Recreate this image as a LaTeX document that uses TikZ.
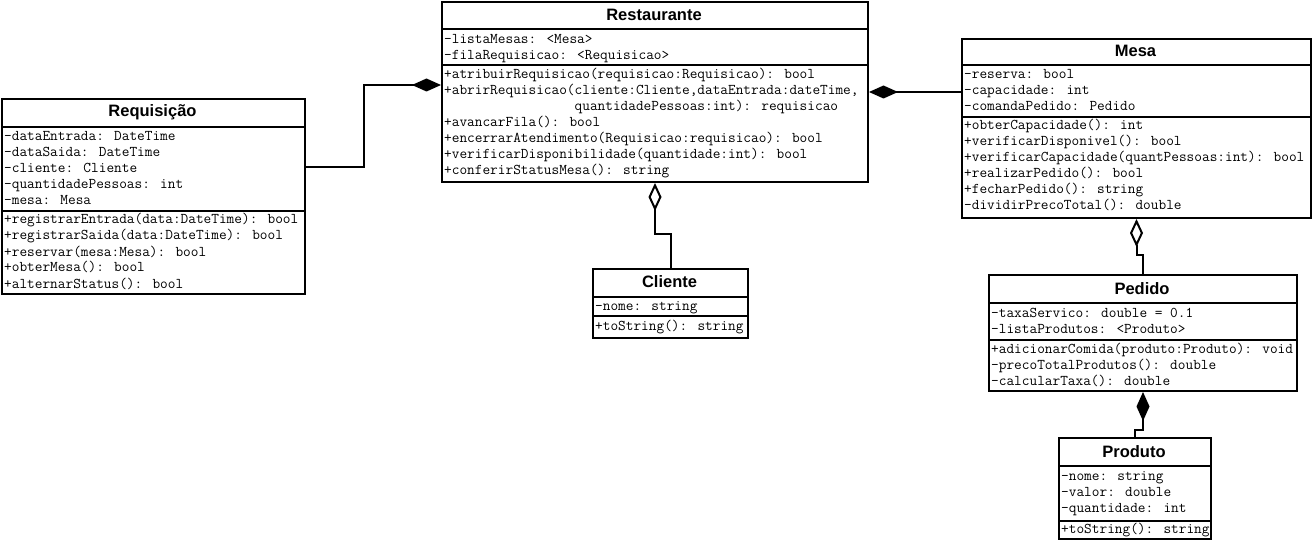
\documentclass[tikz,border=0pt]{standalone}
\usepackage{fontspec}
\setmainfont{Liberation Sans}
\usetikzlibrary{arrows.meta}
\begin{document}
\begin{tikzpicture}[x=1pt,y=-1pt,
  box/.style={draw, line width=2pt, inner sep=0pt, anchor=north west},
  ttl/.style={font=\fontsize{16.5}{18}\selectfont\bfseries, inner sep=0pt},
  ln/.style={font=\ttfamily\fontsize{14.9}{16}\selectfont, inner sep=0pt, anchor=west, text height=9pt, text depth=3pt},
  sepl/.style={line width=2pt},
  conn/.style={line width=2pt},
  comp/.style={conn, {Diamond[length=29pt,width=13pt]}-},
  agg/.style={conn, {Diamond[open,length=28pt,width=13pt,fill=white]}-}]
\useasboundingbox (0,0) rectangle (1312,540);

% ---------- Requisicao ----------
\node[box, minimum width=303pt, minimum height=195pt] (req) at (1,98) {};
\node[ttl] (reqt) at (152.5,112.5) {Requisição};
\draw[sepl] (1,127) -- (304,127);
\draw[sepl] (1,211) -- (304,211);
\foreach \t [count=\i] in {{-dataEntrada: DateTime},{-dataSaida: DateTime},{-cliente: Cliente},{-quantidadePessoas: int},{-mesa: Mesa}}
  \node[ln] (reqa\i) at (4,{137.5+16*(\i-1)}) {\t};
\foreach \t [count=\i] in {{+registrarEntrada(data:DateTime): bool},{+registrarSaida(data:DateTime): bool},{+reservar(mesa:Mesa): bool},{+obterMesa(): bool},{+alternarStatus(): bool}}
  \node[ln] (reqm\i) at (4,{221+16*(\i-1)}) {\t};

% ---------- Restaurante ----------
\node[box, minimum width=426pt, minimum height=180pt] (rest) at (441,1) {};
\node[ttl] (restt) at (654,15) {Restaurante};
\draw[sepl] (441,29) -- (867,29);
\draw[sepl] (441,65) -- (867,65);
\foreach \t [count=\i] in {{-listaMesas: <Mesa>},{-filaRequisicao: <Requisicao>}}
  \node[ln] (resta\i) at (444,{40.5+16*(\i-1)}) {\t};
\foreach \t [count=\i] in {{+atribuirRequisicao(requisicao:Requisicao): bool},{+abrirRequisicao(cliente:Cliente,dataEntrada:dateTime,},{\hphantom{+abrirRequisicao(}quantidadePessoas:int): requisicao},{+avancarFila(): bool},{+encerrarAtendimento(Requisicao:requisicao): bool},{+verificarDisponibilidade(quantidade:int): bool},{+conferirStatusMesa(): string}}
  \node[ln] (restm\i) at (444,{76+16*(\i-1)}) {\t};

% ---------- Mesa ----------
\node[box, minimum width=349pt, minimum height=179pt] (mesa) at (961,38) {};
\node[ttl] (mesat) at (1135.5,51) {Mesa};
\draw[sepl] (961,65) -- (1310,65);
\draw[sepl] (961,117) -- (1310,117);
\foreach \t [count=\i] in {{-reserva: bool},{-capacidade: int},{-comandaPedido: Pedido}}
  \node[ln] (mesaa\i) at (964,{76+16*(\i-1)}) {\t};
\foreach \t [count=\i] in {{+obterCapacidade(): int},{+verificarDisponivel(): bool},{+verificarCapacidade(quantPessoas:int): bool},{+realizarPedido(): bool},{+fecharPedido(): string},{-dividirPrecoTotal(): double}}
  \node[ln] (mesam\i) at (964,{127+16*(\i-1)}) {\t};

% ---------- Cliente ----------
\node[box, minimum width=155pt, minimum height=69pt] (cli) at (592,268) {};
\node[ttl] (clit) at (669.5,282) {Cliente};
\draw[sepl] (592,297) -- (747,297);
\draw[sepl] (592,316) -- (747,316);
\node[ln] (clia1) at (595,307) {-nome: string};
\node[ln] (clim1) at (595,327) {+toString(): string};

% ---------- Pedido ----------
\node[box, minimum width=308pt, minimum height=116pt] (ped) at (988,274) {};
\node[ttl] (pedt) at (1142,289) {Pedido};
\draw[sepl] (988,303) -- (1296,303);
\draw[sepl] (988,340) -- (1296,340);
\foreach \t [count=\i] in {{-taxaServico: double = 0.1},{-listaProdutos: <Produto>}}
  \node[ln] (peda\i) at (991,{314+16*(\i-1)}) {\t};
\foreach \t [count=\i] in {{+adicionarComida(produto:Produto): void},{-precoTotalProdutos(): double},{-calcularTaxa(): double}}
  \node[ln] (pedm\i) at (991,{350.5+16*(\i-1)}) {\t};

% ---------- Produto ----------
\node[box, minimum width=152pt, minimum height=101pt] (prod) at (1058,437) {};
\node[ttl] (prodt) at (1134,452) {Produto};
\draw[sepl] (1058,466) -- (1210,466);
\draw[sepl] (1058,521) -- (1210,521);
\foreach \t [count=\i] in {{-nome: string},{-valor: double},{-quantidade: int}}
  \node[ln] (proda\i) at (1061,{477+16*(\i-1)}) {\t};
\node[ln] (prodm1) at (1061,530) {+toString(): string};

% ---------- connectors ----------
\draw[comp] ([yshift=-84pt]rest.north west) -- ++(-77,0) |- ([yshift=-69pt]req.north east);
\draw[comp] (rest.east) -- (mesa.west |- rest.east);
\draw[agg] (rest.south) -- ++(0,51) -| (cli.north);
\draw[agg] (mesa.south) -- ++(0,36) -| (ped.north);
\draw[comp] (ped.south) -- ++(0,38) -| (prod.north);
\end{tikzpicture}
\end{document}
